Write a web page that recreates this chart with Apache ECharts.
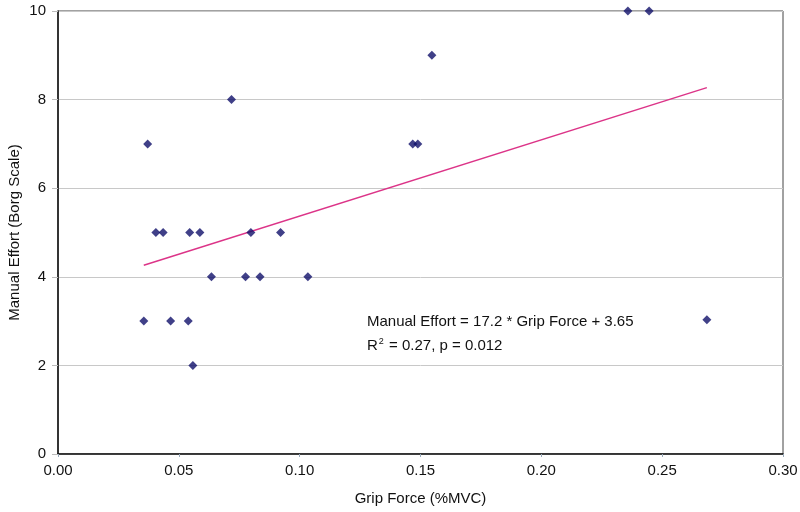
<!DOCTYPE html>
<html>
<head>
<meta charset="utf-8">
<script src="https://cdn.jsdelivr.net/npm/echarts@6/dist/echarts.min.js"></script>
<style>
  html, body { margin: 0; padding: 0; background: #fff; }
  #chart { width: 800px; height: 512px; }
</style>
</head>
<body>
<div id="chart"></div>
<script>
// grip force (%MVC) and manual effort (Borg) for each subject
var gripForce = [0.0371, 0.0718, 0.0405, 0.0435, 0.0545, 0.0587, 0.0798, 0.0921,
  0.0635, 0.0776, 0.0836, 0.1034, 0.0355, 0.0466, 0.0539, 0.0558,
  0.2358, 0.2446, 0.1547, 0.1468, 0.1489, 0.2685];
var manualEffort = [7, 8, 5, 5, 5, 5, 5, 5,
  4, 4, 4, 4, 3, 3, 3, 2,
  10, 10, 9, 7, 7, 3.03];

// regression line end points
var trendX = [0.0355, 0.2685];
var trendY = [4.26, 8.27];

var xTicks = [0, 0.05, 0.10, 0.15, 0.20, 0.25, 0.30];
var yTicks = [0, 2, 4, 6, 8, 10];

var eqLine1 = 'Manual Effort = 17.2 * Grip Force + 3.65';
var eqLine2 = 'R{sup|2} = 0.27, p = 0.012';

var chart = echarts.init(document.getElementById('chart'));

var points = gripForce.map(function (x, i) { return [x, manualEffort[i]]; });
var trend = trendX.map(function (x, i) { return [x, trendY[i]]; });

var font = 'Liberation Sans, Arial, sans-serif';

var option = {
  animation: false,
  grid: {
    left: 58,
    right: 17,
    top: 11,
    bottom: 58,
    outerBoundsMode: 'none',
    containLabel: false,
    show: true,
    borderColor: '#444',
    borderWidth: 1
  },
  xAxis: {
    type: 'value',
    min: xTicks[0],
    max: xTicks[xTicks.length - 1],
    interval: 0.05,
    name: 'Grip Force (%MVC)',
    nameLocation: 'middle',
    nameGap: 37,
    nameMoveOverlap: false,
    nameTextStyle: { fontFamily: font, fontSize: 15, color: '#111' },
    axisLine: { lineStyle: { color: '#111', width: 1.5 } },
    axisTick: { show: true, length: 3, lineStyle: { color: '#9ab' } },
    axisLabel: {
      fontFamily: font, fontSize: 15, color: '#111', margin: 9,
      formatter: function (v) { return v.toFixed(2); }
    },
    splitLine: { show: false }
  },
  yAxis: {
    type: 'value',
    min: yTicks[0],
    max: yTicks[yTicks.length - 1],
    interval: 2,
    name: 'Manual Effort (Borg Scale)',
    nameLocation: 'middle',
    nameGap: 36,
    nameMoveOverlap: false,
    nameTextStyle: { fontFamily: font, fontSize: 15, color: '#111' },
    axisLine: { lineStyle: { color: '#111', width: 1.5 } },
    axisTick: { show: true, length: 6, lineStyle: { color: '#bbb' } },
    axisLabel: { fontFamily: font, fontSize: 15, color: '#111', margin: 12 },
    splitLine: { show: true, lineStyle: { color: '#c8c8c8', width: 1 } }
  },
  series: [
    {
      type: 'scatter',
      data: points,
      symbol: 'diamond',
      symbolSize: 9,
      itemStyle: { color: '#10106a' },
      z: 3
    },
    {
      type: 'line',
      data: trend,
      symbol: 'none',
      lineStyle: { color: '#dc3488', width: 1.5 },
      z: 2
    }
  ],
  graphic: [
    {
      type: 'text',
      left: 367,
      top: 314,
      style: { text: eqLine1, font: '15px ' + font, fill: '#111' }
    },
    {
      type: 'text',
      left: 367,
      top: 337,
      style: {
        text: eqLine2,
        font: '15px ' + font,
        fill: '#111',
        rich: {
          sup: { fontSize: 9, fontFamily: font, fill: '#111', padding: [0, 1, 8, 1] }
        }
      }
    }
  ]
};

chart.setOption(option);
</script>
</body>
</html>
